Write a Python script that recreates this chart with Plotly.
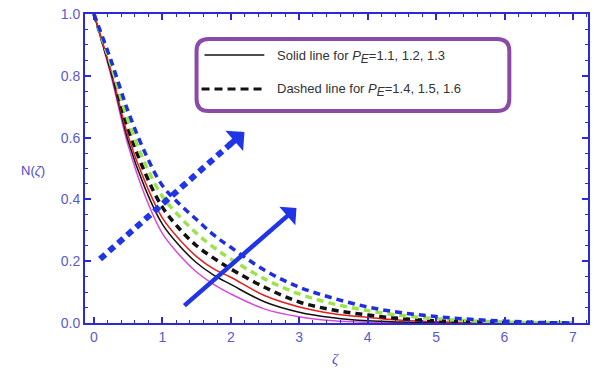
import plotly.graph_objects as go

# ---------------- data ----------------
zeta = [0, 0.25, 0.5, 0.75, 1, 1.25, 1.5, 1.75, 2, 2.5, 3, 3.5, 4, 4.5, 5, 5.5, 6, 6.5, 7]

solid_magenta = [1, 0.80, 0.575, 0.41, 0.29, 0.22, 0.165, 0.125, 0.094, 0.045, 0.020, 0.007, 0.002, 0.0005, 0, 0, 0, 0, 0]
solid_black   = [1, 0.81, 0.59, 0.435, 0.32, 0.25, 0.195, 0.155, 0.125, 0.068, 0.035, 0.017, 0.007, 0.003, 0.001, 0, 0, 0, 0]
solid_red     = [1, 0.815, 0.605, 0.455, 0.34, 0.27, 0.215, 0.175, 0.148, 0.088, 0.052, 0.030, 0.018, 0.009, 0.004, 0.002, 0, 0, 0]
dash_black    = [1, 0.825, 0.63, 0.485, 0.375, 0.305, 0.25, 0.21, 0.175, 0.115, 0.068, 0.042, 0.026, 0.014, 0.007, 0.003, 0.001, 0, 0]
dash_green    = [1, 0.835, 0.655, 0.515, 0.41, 0.345, 0.29, 0.245, 0.207, 0.142, 0.094, 0.062, 0.040, 0.024, 0.014, 0.007, 0.003, 0.001, 0]
dash_blue     = [1, 0.85, 0.685, 0.55, 0.445, 0.385, 0.335, 0.285, 0.245, 0.170, 0.116, 0.080, 0.052, 0.033, 0.021, 0.012, 0.006, 0.002, 0]

solid_series = [("magenta", solid_magenta, "#d84ad8"), ("black", solid_black, "#111111"), ("red", solid_red, "#e02020")]
dash_series = [("black", dash_black, "#111111"), ("green", dash_green, "#9be34a"), ("blue", dash_blue, "#1f2fe0")]

x_ticks = [0, 1, 2, 3, 4, 5, 6, 7]
y_ticks = [0.0, 0.2, 0.4, 0.6, 0.8, 1.0]
y_tick_text = ["0.0", "0.2", "0.4", "0.6", "0.8", "1.0"]

# arrows (tail -> head) in data coordinates
solid_arrow = dict(tail=(1.30, 0.052), head=(2.96, 0.372))
dash_arrow = dict(tail=(0.09, 0.207), base=(2.0, 0.580), head=(2.20, 0.618))

sub_e = '<sub><span style="font-size:12px"><i>E</i></span></sub>'
legend_lines = [f"Solid line for <i>P</i>{sub_e}=1.1, 1.2, 1.3",
                f"Dashed line for <i>P</i>{sub_e}=1.4, 1.5, 1.6"]

# ---------------- layout geometry ----------------
W, H = 594, 375
L, R, T, B = 85, 590, 14, 323  # plot area in pixels


def px(x):
    return (x - L) / (R - L)


def py(y):
    return (B - y) / (B - T)


AXIS_BLUE = "#2a2ad8"
TICK_BLUE = "#5a5ad0"
ARROW_BLUE = "#1f35e6"

fig = go.Figure()

for name, ys, col in solid_series:
    fig.add_trace(go.Scatter(x=zeta, y=ys, mode="lines", line=dict(color=col, width=1.5, shape="spline"),
                             showlegend=False, name=name))
for name, ys, col in dash_series:
    fig.add_trace(go.Scatter(x=zeta, y=ys, mode="lines",
                             line=dict(color=col, width=3.5, dash="7px,5px", shape="spline"),
                             showlegend=False, name=name))

shapes = []
# dashed arrow shaft
shapes.append(dict(type="line", xref="x", yref="y",
                   x0=dash_arrow["tail"][0], y0=dash_arrow["tail"][1],
                   x1=dash_arrow["base"][0], y1=dash_arrow["base"][1],
                   line=dict(color=ARROW_BLUE, width=6, dash="7px,5px")))

# rounded legend box
bx0, bx1, by0, by1, r = 197, 511, 39, 111, 12
path = (f"M {px(bx0 + r)},{py(by0)} L {px(bx1 - r)},{py(by0)} "
        f"Q {px(bx1)},{py(by0)} {px(bx1)},{py(by0 + r)} "
        f"L {px(bx1)},{py(by1 - r)} Q {px(bx1)},{py(by1)} {px(bx1 - r)},{py(by1)} "
        f"L {px(bx0 + r)},{py(by1)} Q {px(bx0)},{py(by1)} {px(bx0)},{py(by1 - r)} "
        f"L {px(bx0)},{py(by0 + r)} Q {px(bx0)},{py(by0)} {px(bx0 + r)},{py(by0)} Z")
shapes.append(dict(type="path", xref="paper", yref="paper", path=path,
                   line=dict(color="#8a4aa6", width=4), fillcolor="rgba(255,255,255,1)", layer="above"))
# legend samples
shapes.append(dict(type="line", xref="paper", yref="paper", x0=px(205), x1=px(265), y0=py(55), y1=py(55),
                   line=dict(color="#111111", width=1.5)))
shapes.append(dict(type="line", xref="paper", yref="paper", x0=px(202), x1=px(266), y0=py(89), y1=py(89),
                   line=dict(color="#111111", width=3, dash="8px,5px")))

annotations = []
annotations.append(dict(x=solid_arrow["head"][0], y=solid_arrow["head"][1], ax=solid_arrow["tail"][0],
                        ay=solid_arrow["tail"][1], xref="x", yref="y", axref="x", ayref="y", text="",
                        showarrow=True, arrowhead=1, arrowsize=0.9, arrowwidth=4.5, arrowcolor=ARROW_BLUE))
annotations.append(dict(x=dash_arrow["head"][0], y=dash_arrow["head"][1], ax=dash_arrow["base"][0] - 0.05,
                        ay=dash_arrow["base"][1] - 0.01, xref="x", yref="y", axref="x", ayref="y", text="",
                        showarrow=True, arrowhead=1, arrowsize=0.75, arrowwidth=6, arrowcolor=ARROW_BLUE))
for i, (txt, yy) in enumerate(zip(legend_lines, [57, 90])):
    annotations.append(dict(x=px(276), y=py(yy), xref="paper", yref="paper", text=txt, showarrow=False,
                            xanchor="left", yanchor="middle",
                            font=dict(family="Liberation Sans, Arial", size=13, color="#333333")))
# axis titles
annotations.append(dict(x=px(33), y=py(170), xref="paper", yref="paper", text="N(<i>ζ</i>)", showarrow=False,
                        xanchor="center", yanchor="middle",
                        font=dict(family="Liberation Sans, Arial", size=13, color="#4a4ad0")))
annotations.append(dict(x=px(336), y=py(359), xref="paper", yref="paper", text="<i>ζ</i>", showarrow=False,
                        xanchor="center", yanchor="middle",
                        font=dict(family="Liberation Serif, Times New Roman", size=15, color="#4a4ad0")))

axis_common = dict(showgrid=False, zeroline=False, showline=True, linecolor=AXIS_BLUE, linewidth=2,
                   mirror="allticks", ticks="inside", tickcolor=AXIS_BLUE, tickwidth=1.5, ticklen=6,
                   tickfont=dict(family="Liberation Sans, Arial", size=14, color=TICK_BLUE))

fig.update_layout(
    width=W, height=H,
    margin=dict(l=L, r=W - R, t=T, b=H - B, pad=0),
    paper_bgcolor="white", plot_bgcolor="white",
    showlegend=False,
    xaxis=dict(range=[-0.13, 7.22], tickvals=x_ticks, ticktext=[str(v) for v in x_ticks],
               minor=dict(dtick=0.2, ticks="inside", ticklen=3, tickcolor=AXIS_BLUE, tickwidth=1),
               **axis_common),
    yaxis=dict(range=[0, 1.0], tickvals=y_ticks, ticktext=y_tick_text,
               minor=dict(dtick=0.05, ticks="inside", ticklen=3, tickcolor=AXIS_BLUE, tickwidth=1),
               **axis_common),
    shapes=shapes,
    annotations=annotations,
)

fig.write_html("out.html")
